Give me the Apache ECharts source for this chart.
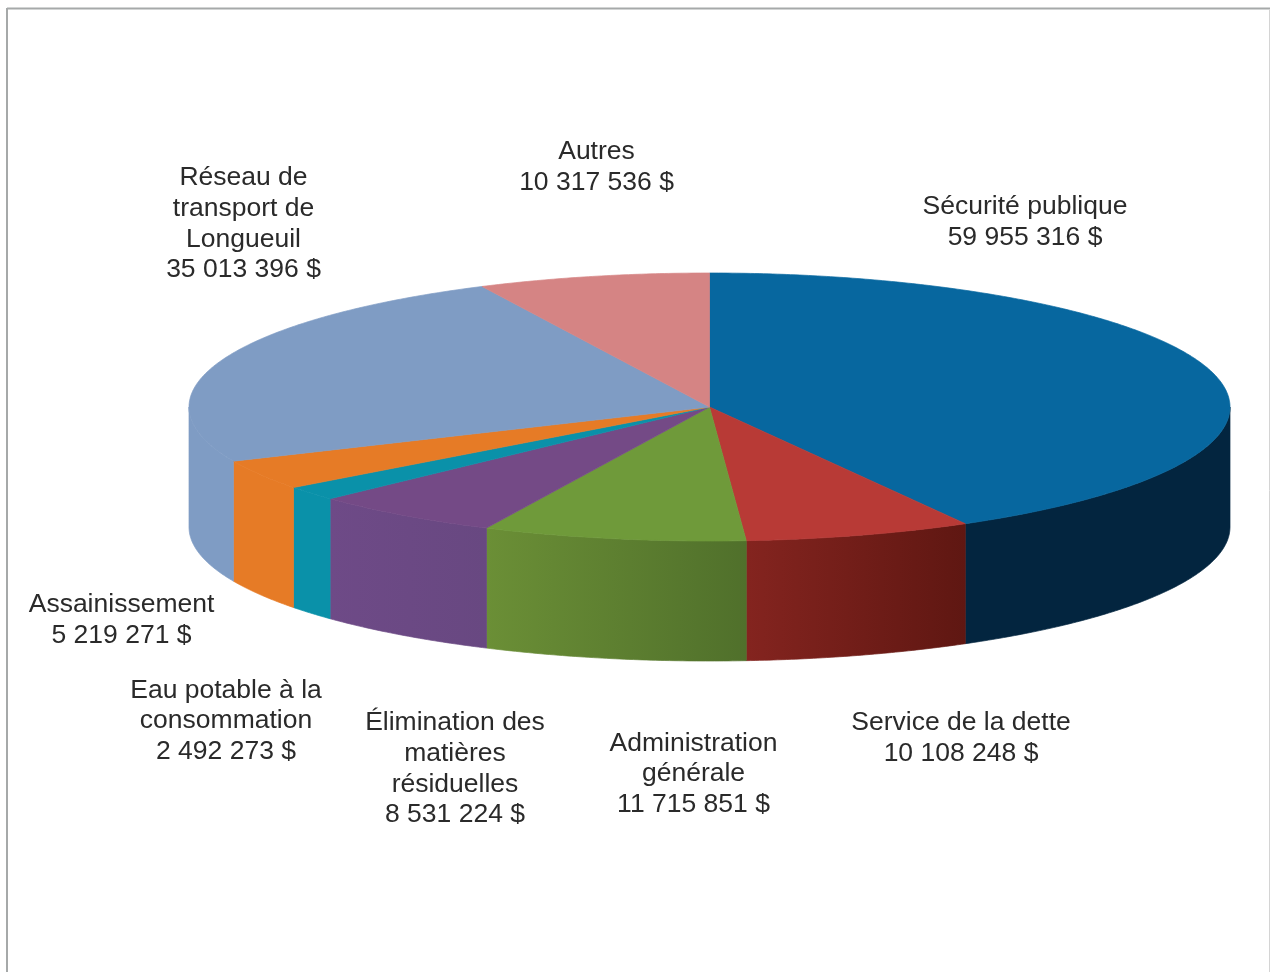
<!DOCTYPE html>
<html>
<head>
<meta charset="utf-8">
<title>Dépenses</title>
<script src="https://cdn.jsdelivr.net/npm/echarts@6/dist/echarts.min.js"></script>
<style>
    html, body {margin: 0; padding: 0; background: #fff;}
    #main {width: 1270px; height: 972px;}
</style>
</head>
<body>
<div id="main"></div>
<script>
var categories = ['Sécurité publique', 'Service de la dette', 'Administration\ngénérale', 'Élimination des\nmatières\nrésiduelles', 'Eau potable à la\nconsommation', 'Assainissement', 'Réseau de\ntransport de\nLongueuil', 'Autres'];
var values = [59955316, 10108248, 11715851, 8531224, 2492273, 5219271, 35013396, 10317536];

// couleurs du dessus, puis du côté (gauche -> droite)
var topColors = ['#07679f', '#b83a36', '#6f9a3a', '#744a86', '#0a91a9', '#e67b26', '#7f9cc4', '#d58484'];
var sideLeft = ['#03253f', '#84241f', '#6b8f36', '#6e4a87', '#0a91a9', '#e67b26', '#7f9cc4', '#d58484'];
var sideRight = ['#03253f', '#5f1712', '#50702b', '#684881', '#0a91a9', '#e67b26', '#7f9cc4', '#d58484'];

// centre du bloc de texte de chaque étiquette
var labelX = [1025, 961, 693.5, 455, 226, 121.5, 243.5, 596.5];
var labelY = [222, 738, 774, 769, 721, 620, 224, 167.5];

var cx = 709.5, cy = 407, rx = 520.5, ry = 134, depth = 120;
var total = values.reduce(function (a, b) { return a + b; }, 0);

function startAngle(idx) {
    var sum = 0;
    for (var i = 0; i < idx; i++) sum += values[i];
    return sum / total * 360;
}

function ellipsePoint(deg, offset) {
    var rad = deg * Math.PI / 180;
    return [cx + rx * Math.sin(rad), cy + offset - ry * Math.cos(rad)];
}

function arc(from, to, offset) {
    var pts = [];
    var n = Math.max(2, Math.ceil(Math.abs(to - from) * 2));
    for (var i = 0; i <= n; i++) {
        pts.push(ellipsePoint(from + (to - from) * i / n, offset));
    }
    return pts;
}

function renderSide(params, api) {
    var idx = params.dataIndex;
    var a0 = Math.max(startAngle(idx), 90);
    var a1 = Math.min(startAngle(idx) + api.value(0) / total * 360, 270);
    if (a1 <= a0) return {type: 'group'};
    var fill = new echarts.graphic.LinearGradient(0, 0, 1, 0, [
        {offset: 0, color: sideLeft[idx]},
        {offset: 1, color: sideRight[idx]}
    ]);
    return {
        type: 'polygon',
        shape: {points: arc(a0, a1, 0).concat(arc(a1, a0, depth))},
        // le trait évite le liseré blanc entre le dessus et le côté
        style: {fill: fill, stroke: fill, lineWidth: 0.7}
    };
}

function renderTop(params, api) {
    var idx = params.dataIndex;
    var a0 = startAngle(idx);
    var a1 = a0 + api.value(0) / total * 360;
    return {
        type: 'polygon',
        shape: {points: [[cx, cy]].concat(arc(a0, a1, 0))},
        style: {fill: topColors[idx], stroke: topColors[idx], lineWidth: 0.7}
    };
}

function renderLabel(params, api) {
    var idx = params.dataIndex;
    var money = String(api.value(0)).replace(/\B(?=(\d{3})+$)/g, ' ') + ' $';
    return {
        type: 'text',
        x: labelX[idx],
        y: labelY[idx],
        style: {
            text: categories[idx] + '\n' + money,
            align: 'center',
            verticalAlign: 'middle',
            fontFamily: 'Liberation Sans',
            fontSize: 26.5,
            lineHeight: 30.7,
            fill: '#2a2a2a'
        }
    };
}

var data = values.map(function (v) { return [v]; });

var option = {
    backgroundColor: '#fff',
    animation: false,
    graphic: [
        {type: 'line', silent: true, shape: {x1: 7, y1: 8.5, x2: 1270, y2: 8.5}, style: {stroke: '#a6a9a9', lineWidth: 2}},
        {type: 'line', silent: true, shape: {x1: 7, y1: 8, x2: 7, y2: 972}, style: {stroke: '#a6a9a9', lineWidth: 2}},
        {type: 'line', silent: true, shape: {x1: 1269.5, y1: 9, x2: 1269.5, y2: 972}, style: {stroke: '#d4d4d4', lineWidth: 1}}
    ],
    series: [
        {type: 'custom', coordinateSystem: 'none', silent: true, z: 2, data: data, renderItem: renderSide},
        {type: 'custom', coordinateSystem: 'none', silent: true, z: 3, data: data, renderItem: renderTop},
        {type: 'custom', coordinateSystem: 'none', silent: true, z: 4, data: data, renderItem: renderLabel}
    ]
};

var myChart = echarts.init(document.getElementById('main'));
myChart.setOption(option);
</script>
</body>
</html>
